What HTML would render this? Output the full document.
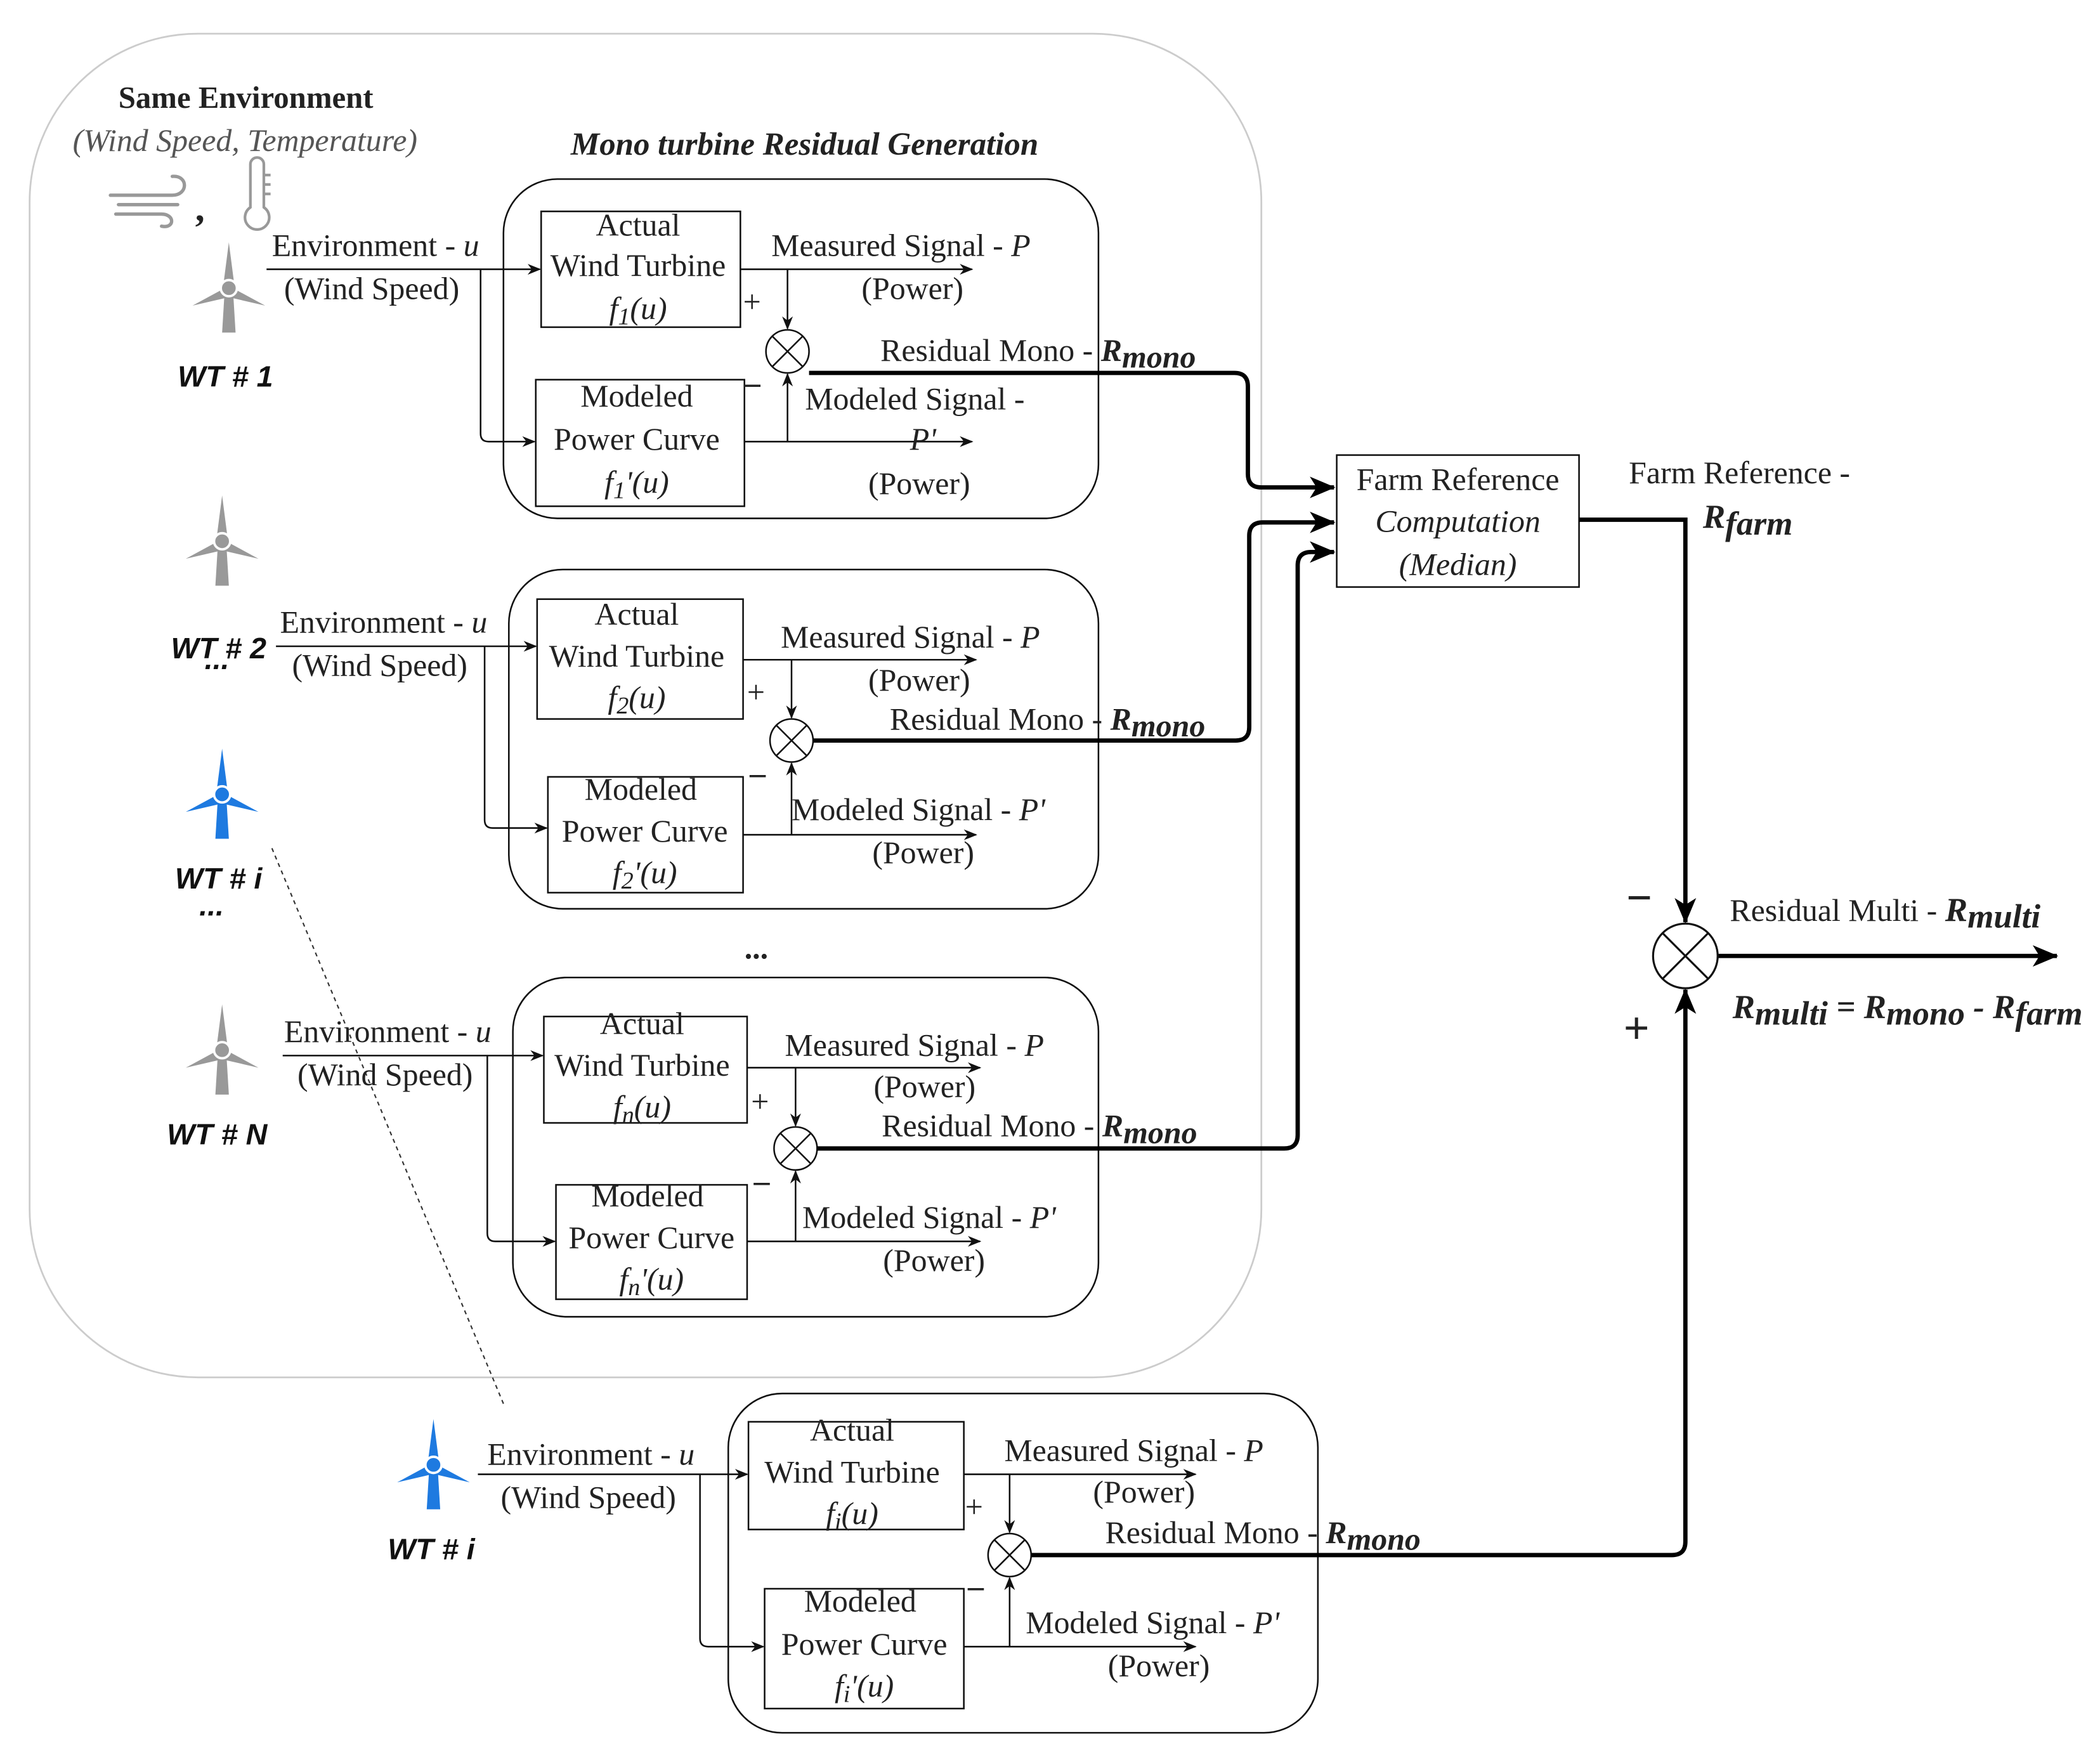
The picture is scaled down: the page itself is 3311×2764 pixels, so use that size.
<!DOCTYPE html>
<html><head><meta charset="utf-8"><style>
html,body{margin:0;padding:0;background:#fff;}
svg{display:block;}
text{font-family:"Liberation Serif",serif;font-size:23.5px;fill:#222;}
.it{font-style:italic;}
.b{font-weight:bold;}
.wt{font-family:"Liberation Sans",sans-serif;font-weight:bold;font-style:italic;font-size:22px;fill:#111;}
</style></head><body>
<svg width="3311" height="2764" viewBox="0 0 1560 1302" preserveAspectRatio="none" xmlns="http://www.w3.org/2000/svg">
<defs>
<marker id="a" markerWidth="10" markerHeight="10" refX="9" refY="5" orient="auto" markerUnits="userSpaceOnUse"><path d="M0,1 L10,5 L0,9 L3,5 Z" fill="#111"/></marker>
<marker id="A" markerWidth="20" markerHeight="20" refX="18" refY="10" orient="auto" markerUnits="userSpaceOnUse"><path d="M0,2 L19,10 L0,18 L5,10 Z" fill="#000"/></marker>
<g id="tg"><path d="M-3,0 L-5,33 L5,33 L3,0 Z"/><path d="M-4,-3 L0,-34 L4,-3 Z"/><path d="M-3,0 L-27,13 L-1,7 Z"/><path d="M3,0 L27,13 L1,7 Z"/><circle r="6" stroke="#fff" stroke-width="1.8"/></g>
</defs>

<rect x="22" y="25" width="915" height="998" rx="125" fill="none" stroke="#ccc" stroke-width="1.3"/>
<text x="88" y="80" class="b" style="font-size:23px">Same Environment</text>
<text x="54" y="112" class="it" style="fill:#555">(Wind Speed, Temperature)</text>
<text x="424" y="115" class="b it" style="font-size:24px">Mono turbine Residual Generation</text>
<g stroke="#999" stroke-width="2.5" fill="none" stroke-linecap="round">
<path d="M82,145 L128,145 C140,145 140,130 128,131"/><path d="M88,152 L132,152"/><path d="M86,159 L120,159 C130,159 130,170 120,168"/>
</g>
<text x="145" y="164" class="b" style="font-size:28px">,</text>
<g stroke="#999" stroke-width="2" fill="none"><path d="M186,122 L186,154 A9,9 0 1 0 196,154 L196,122 A5,5 0 0 0 186,122 Z"/><path d="M196,130 h5 M196,137 h5 M196,144 h5"/></g>

<g fill="#999"><use href="#tg" x="170" y="214"/><use href="#tg" x="165" y="402"/><use href="#tg" x="165" y="780"/></g>
<g fill="#1e7ae0"><use href="#tg" x="165" y="590"/><use href="#tg" x="322" y="1088"/></g>
<text x="132" y="287" class="wt">WT # 1</text>
<text x="127" y="489" class="wt">WT # 2</text>
<text x="152" y="497" class="wt">...</text>
<text x="130" y="660" class="wt">WT # i</text>
<text x="148" y="680" class="wt">...</text>
<text x="124" y="850" class="wt">WT # N</text>
<text x="288" y="1158" class="wt">WT # i</text>
<text x="553" y="712" class="b">...</text>
<line x1="202" y1="630" x2="375" y2="1045" stroke="#333" stroke-width="1" stroke-dasharray="3,3"/>

<g stroke="#111" stroke-width="1.2" fill="none">
<rect x="374" y="133" width="442" height="252" rx="40"/>
<rect x="402" y="157" width="148" height="86"/>
<rect x="398" y="282" width="155" height="94"/>
<path d="M198,200 H401" marker-end="url(#a)"/>
<path d="M357,200 V322 Q357,328 363,328 H397" marker-end="url(#a)"/>
<path d="M550,200 H722" marker-end="url(#a)"/>
<path d="M585,200 V244" marker-end="url(#a)"/>
<path d="M553,328 H722" marker-end="url(#a)"/>
<path d="M585,328 V278" marker-end="url(#a)"/>
<circle cx="585" cy="261" r="16"/><path d="M574,250 L596,272 M596,250 L574,272"/>
<rect x="378" y="423" width="438" height="252" rx="40"/>
<rect x="399" y="445" width="153" height="89"/>
<rect x="407" y="577" width="145" height="86"/>
<path d="M205,480 H398" marker-end="url(#a)"/>
<path d="M360,480 V609 Q360,615 366,615 H406" marker-end="url(#a)"/>
<path d="M552,490 H725" marker-end="url(#a)"/>
<path d="M588,490 V533" marker-end="url(#a)"/>
<path d="M552,620 H725" marker-end="url(#a)"/>
<path d="M588,620 V567" marker-end="url(#a)"/>
<circle cx="588" cy="550" r="16"/><path d="M577,539 L599,561 M599,539 L577,561"/>
<rect x="381" y="726" width="435" height="252" rx="40"/>
<rect x="404" y="755" width="151" height="79"/>
<rect x="413" y="880" width="142" height="85"/>
<path d="M210,784 H403" marker-end="url(#a)"/>
<path d="M362,784 V916 Q362,922 368,922 H412" marker-end="url(#a)"/>
<path d="M555,793 H728" marker-end="url(#a)"/>
<path d="M591,793 V836" marker-end="url(#a)"/>
<path d="M555,922 H728" marker-end="url(#a)"/>
<path d="M591,922 V870" marker-end="url(#a)"/>
<circle cx="591" cy="853" r="16"/><path d="M580,842 L602,864 M602,842 L580,864"/>
<rect x="541" y="1035" width="438" height="252" rx="40"/>
<rect x="556" y="1056" width="160" height="80"/>
<rect x="568" y="1180" width="148" height="89"/>
<path d="M355,1095 H555" marker-end="url(#a)"/>
<path d="M520,1095 V1217 Q520,1223 526,1223 H567" marker-end="url(#a)"/>
<path d="M716,1095 H888" marker-end="url(#a)"/>
<path d="M750,1095 V1138" marker-end="url(#a)"/>
<path d="M716,1223 H888" marker-end="url(#a)"/>
<path d="M750,1223 V1172" marker-end="url(#a)"/>
<circle cx="750" cy="1155" r="16"/><path d="M739,1144 L761,1166 M761,1144 L739,1166"/>
<rect x="993" y="338" width="180" height="98"/>
</g>

<g stroke="#000" stroke-width="3.2" fill="none">
<path d="M601,277 H917 Q927,277 927,287 V352 Q927,362 937,362 H991" marker-end="url(#A)"/>
<path d="M604,550 H918 Q928,550 928,540 V398 Q928,388 938,388 H991" marker-end="url(#A)"/>
<path d="M607,853 H954 Q964,853 964,843 V420 Q964,410 974,410 H991" marker-end="url(#A)"/>
<path d="M766,1155 H1242 Q1252,1155 1252,1145 V735" marker-end="url(#A)"/>
<path d="M1173,386 H1252 V685" marker-end="url(#A)"/>
<path d="M1276,710 H1528" marker-end="url(#A)"/>
</g>
<g stroke="#111" stroke-width="1.5" fill="none"><circle cx="1252" cy="710" r="24"/><path d="M1235,693 L1269,727 M1269,693 L1235,727"/></g>
<text x="1208" y="678" class="b" style="font-size:34px">−</text>
<text x="1206" y="775" class="b" style="font-size:34px">+</text>

<text x="474" y="175" text-anchor="middle">Actual</text>
<text x="474" y="205" text-anchor="middle">Wind Turbine</text>
<text x="474" y="237" text-anchor="middle" class="it">f<tspan dy="4" font-size="18">1</tspan><tspan dy="-4">(u)</tspan></text>
<text x="473" y="302" text-anchor="middle">Modeled</text>
<text x="473" y="334" text-anchor="middle">Power Curve</text>
<text x="473" y="366" text-anchor="middle" class="it">f<tspan dy="4" font-size="18">1</tspan><tspan dy="-4">'(u)</tspan></text>
<text x="202" y="190">Environment - <tspan class="it">u</tspan></text>
<text x="211" y="222">(Wind Speed)</text>
<text x="573" y="190">Measured Signal - <tspan class="it">P</tspan></text>
<text x="640" y="222">(Power)</text>
<text x="552" y="232">+</text>
<text x="553" y="292" class="b">–</text>
<text x="654" y="268">Residual Mono - <tspan class="b it">R<tspan dy="5">mono</tspan></tspan></text>
<text x="598" y="304">Modeled Signal -</text>
<text x="676" y="334" class="it">P'</text>
<text x="645" y="367">(Power)</text>
<text x="473" y="464" text-anchor="middle">Actual</text>
<text x="473" y="495" text-anchor="middle">Wind Turbine</text>
<text x="473" y="526" text-anchor="middle" class="it">f<tspan dy="4" font-size="18">2</tspan><tspan dy="-4">(u)</tspan></text>
<text x="476" y="594" text-anchor="middle">Modeled</text>
<text x="479" y="625" text-anchor="middle">Power Curve</text>
<text x="479" y="656" text-anchor="middle" class="it">f<tspan dy="4" font-size="18">2</tspan><tspan dy="-4">'(u)</tspan></text>
<text x="208" y="470">Environment - <tspan class="it">u</tspan></text>
<text x="217" y="502">(Wind Speed)</text>
<text x="580" y="481">Measured Signal - <tspan class="it">P</tspan></text>
<text x="645" y="513">(Power)</text>
<text x="555" y="522">+</text>
<text x="557" y="582" class="b">–</text>
<text x="661" y="542">Residual Mono - <tspan class="b it">R<tspan dy="5">mono</tspan></tspan></text>
<text x="588" y="609">Modeled Signal - <tspan class="it">P'</tspan></text>
<text x="648" y="641">(Power)</text>
<text x="477" y="768" text-anchor="middle">Actual</text>
<text x="477" y="799" text-anchor="middle">Wind Turbine</text>
<text x="477" y="830" text-anchor="middle" class="it">f<tspan dy="4" font-size="18">n</tspan><tspan dy="-4">(u)</tspan></text>
<text x="481" y="896" text-anchor="middle">Modeled</text>
<text x="484" y="927" text-anchor="middle">Power Curve</text>
<text x="484" y="958" text-anchor="middle" class="it">f<tspan dy="4" font-size="18">n</tspan><tspan dy="-4">'(u)</tspan></text>
<text x="211" y="774">Environment - <tspan class="it">u</tspan></text>
<text x="221" y="806">(Wind Speed)</text>
<text x="583" y="784">Measured Signal - <tspan class="it">P</tspan></text>
<text x="649" y="815">(Power)</text>
<text x="558" y="826">+</text>
<text x="560" y="885" class="b">–</text>
<text x="655" y="844">Residual Mono - <tspan class="b it">R<tspan dy="5">mono</tspan></tspan></text>
<text x="596" y="912">Modeled Signal - <tspan class="it">P'</tspan></text>
<text x="656" y="944">(Power)</text>
<text x="633" y="1070" text-anchor="middle">Actual</text>
<text x="633" y="1101" text-anchor="middle">Wind Turbine</text>
<text x="633" y="1132" text-anchor="middle" class="it">f<tspan dy="4" font-size="18">i</tspan><tspan dy="-4">(u)</tspan></text>
<text x="639" y="1197" text-anchor="middle">Modeled</text>
<text x="642" y="1229" text-anchor="middle">Power Curve</text>
<text x="642" y="1260" text-anchor="middle" class="it">f<tspan dy="4" font-size="18">i</tspan><tspan dy="-4">'(u)</tspan></text>
<text x="362" y="1088">Environment - <tspan class="it">u</tspan></text>
<text x="372" y="1120">(Wind Speed)</text>
<text x="746" y="1085">Measured Signal - <tspan class="it">P</tspan></text>
<text x="812" y="1116">(Power)</text>
<text x="717" y="1127">+</text>
<text x="719" y="1186" class="b">–</text>
<text x="821" y="1146">Residual Mono - <tspan class="b it">R<tspan dy="5">mono</tspan></tspan></text>
<text x="762" y="1213">Modeled Signal - <tspan class="it">P'</tspan></text>
<text x="823" y="1245">(Power)</text>
<text x="1083" y="364" text-anchor="middle">Farm Reference</text>
<text x="1083" y="395" text-anchor="middle" class="it">Computation</text>
<text x="1083" y="427" text-anchor="middle" class="it">(Median)</text>
<text x="1210" y="359">Farm Reference -</text>
<text x="1265" y="392" class="b it" style="font-size:25px">R<tspan dy="5">farm</tspan></text>
<text x="1285" y="684">Residual Multi - <tspan class="b it" style="font-size:25px">R<tspan dy="5">multi</tspan></tspan></text>
<text x="1287" y="756" class="b it" style="font-size:25px">R<tspan dy="5">multi</tspan><tspan dy="-5"> = R</tspan><tspan dy="5">mono</tspan><tspan dy="-5"> - R</tspan><tspan dy="5">farm</tspan></text>
</svg>
</body></html>
